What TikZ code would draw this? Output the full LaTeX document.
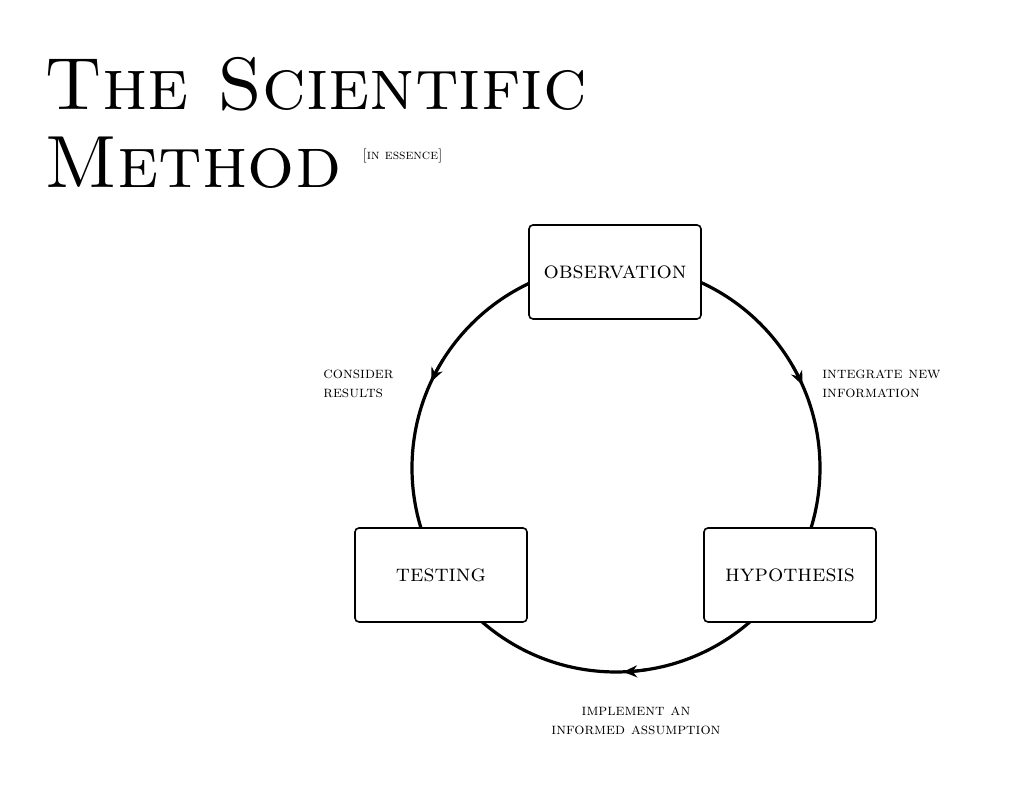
\documentclass[tikz,border=0pt]{standalone}
\usepackage{tikz}
\usetikzlibrary{calc, positioning, arrows.meta}
\tikzset{
    stage/.style={draw, thick, rounded corners=2pt, fill=white, minimum width=86pt, minimum height=47pt, font=\large\scshape},
    note/.style={align=left, font=\footnotesize\scshape, inner sep=0pt},
    flow/.style={-{Stealth[length=7pt,width=6pt]}, line width=1.4pt}
}
\begin{document}
\begin{tikzpicture}[x=0.5pt,y=0.5pt]
    \useasboundingbox (0,0) rectangle (1024,790);
    \coordinate (c) at (616,322);
    % cycle
    \draw[line width=1.6pt] (c) circle[radius=102pt];
    \node[stage] (obs) at (615,518) {observation};
    \node[stage] (test) at (441,215) {testing};
    \node[stage] (hyp) at (790,215) {hypothesis};
    % arrows
    \draw[flow] ($(c)+(30:102pt)$) arc[start angle=30, end angle=24, radius=102pt];
    \draw[flow] ($(c)+(-81:102pt)$) arc[start angle=-81, end angle=-88, radius=102pt];
    \draw[flow] ($(c)+(148:102pt)$) arc[start angle=148, end angle=155, radius=102pt];
    % labels
    \node[note, anchor=north west] (intg) at (822,420) {integrate new\\information};
    \node[note, anchor=north west] (cons) at (323,420) {consider\\results};
    \node[note, align=center, anchor=north] (impl) at (636,83) {implement an\\informed assumption};
    % title
    \node[anchor=base west, inner sep=0pt, font=\fontsize{37}{40}\selectfont\scshape] (title) at (44,680) {The Scientific};
    \node[anchor=base west, inner sep=0pt, font=\fontsize{37}{40}\selectfont\scshape] (method) at (44,602) {Method};
    \node[anchor=base west, inner sep=0pt, font=\scriptsize\scshape] (ess) at (362,630) {[in essence]};
\end{tikzpicture}
\end{document}
